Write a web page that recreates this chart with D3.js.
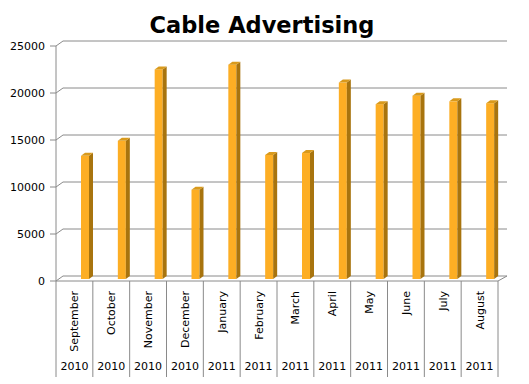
<!DOCTYPE html>
<html>
<head>
<meta charset="utf-8">
<script src="https://cdn.jsdelivr.net/npm/d3@7"></script>
<style>
  body { margin: 0; background: #fff; }
  svg { display: block; font-family: "DejaVu Sans", Verdana, sans-serif; }
</style>
</head>
<body>
<div id="chart-area"></div>
<script>
const months = ["September", "October", "November", "December", "January", "February",
    "March", "April", "May", "June", "July", "August"];
const years = ["2010", "2010", "2010", "2010", "2011", "2011",
    "2011", "2011", "2011", "2011", "2011", "2011"];
const values = [13100, 14700, 22300, 9500, 22800, 13200,
    13400, 20900, 18600, 19500, 18900, 18700];
const yTicks = [0, 5000, 10000, 15000, 20000, 25000];

const config = {
    width: 529,
    height: 384,
    left: 56, right: 498,
    top: 46, bottom: 281,
    depthX: 7, depthY: -5
};

const svg = d3.select('#chart-area')
    .append('svg')
    .attr('width', config.width)
    .attr('height', config.height);

const xScale = d3.scaleBand()
    .domain(months)
    .range([config.left, config.right]);

const yScale = d3.scaleLinear()
    .domain([0, 25000])
    .range([config.bottom, config.top]);

// bars stand half way into the depth
const yBar = d3.scaleLinear()
    .domain([0, 25000])
    .range([config.bottom - 2, config.top - 2]);

const gridColor = '#8a8a8a';

// title
svg.append('text')
    .attr('x', 262)
    .attr('y', 33)
    .attr('text-anchor', 'middle')
    .attr('font-size', '22.5px')
    .attr('font-weight', 'bold')
    .text('Cable Advertising');

// gridlines on back wall + diagonal to axis
const grid = svg.append('g');
yTicks.forEach(t => {
    const y = yScale(t);
    grid.append('path')
        .attr('d', `M${config.left - 6},${y}H${config.left}L${config.left + config.depthX},${y + config.depthY}H${config.right + 9}`)
        .attr('fill', 'none')
        .attr('stroke', gridColor)
        .attr('stroke-width', 1);
    grid.append('text')
        .attr('x', 45)
        .attr('y', y)
        .attr('dy', '0.35em')
        .attr('text-anchor', 'end')
        .attr('font-size', '11px')
        .text(t);
});

// y axis line
svg.append('line')
    .attr('x1', config.left).attr('x2', config.left)
    .attr('y1', config.top).attr('y2', config.bottom)
    .attr('stroke', gridColor);

// floor front edge and right corner
svg.append('path')
    .attr('d', `M${config.left},${config.bottom}H${config.right}L${config.right + 9},${config.bottom + config.depthY}`)
    .attr('fill', 'none')
    .attr('stroke', gridColor);

// category separators below the floor
const seps = months.map(m => xScale(m)).concat([config.right]);
svg.append('g').selectAll('line')
    .data(seps)
    .join('line')
    .attr('x1', d => d).attr('x2', d => d)
    .attr('y1', config.bottom).attr('y2', 377)
    .attr('stroke', gridColor);

// bars
const barW = 8, sideX = 4, sideY = -3;
const bars = svg.append('g').selectAll('g')
    .data(months.map((m, i) => ({ month: m, value: values[i] })))
    .join('g');

bars.append('rect')
    .attr('x', d => xScale(d.month) + 25)
    .attr('y', d => yBar(d.value))
    .attr('width', barW)
    .attr('height', d => yBar(0) - yBar(d.value))
    .attr('fill', '#FDAE24');

bars.append('path')
    .attr('d', d => {
        const x = xScale(d.month) + 25 + barW, y0 = yBar(d.value), y1 = yBar(0);
        return `M${x},${y0}L${x + sideX},${y0 + sideY}L${x + sideX},${y1 + sideY}L${x},${y1}Z`;
    })
    .attr('fill', '#A8740E');

bars.append('path')
    .attr('d', d => {
        const x = xScale(d.month) + 25, y = yBar(d.value);
        return `M${x},${y}L${x + sideX},${y + sideY}L${x + barW + sideX},${y + sideY}L${x + barW},${y}Z`;
    })
    .attr('fill', '#D99A1C');

// month labels
svg.append('g').selectAll('text')
    .data(months)
    .join('text')
    .attr('transform', d => `translate(${xScale(d) + xScale.bandwidth() / 2 + 4},291) rotate(-90)`)
    .attr('text-anchor', 'end')
    .attr('font-size', '11px')
    .text(d => d);

// year labels
svg.append('g').selectAll('text')
    .data(months.map((m, i) => ({ month: m, year: years[i] })))
    .join('text')
    .attr('x', d => xScale(d.month) + xScale.bandwidth() / 2)
    .attr('y', 370)
    .attr('text-anchor', 'middle')
    .attr('font-size', '11px')
    .text(d => d.year);
</script>
</body>
</html>
